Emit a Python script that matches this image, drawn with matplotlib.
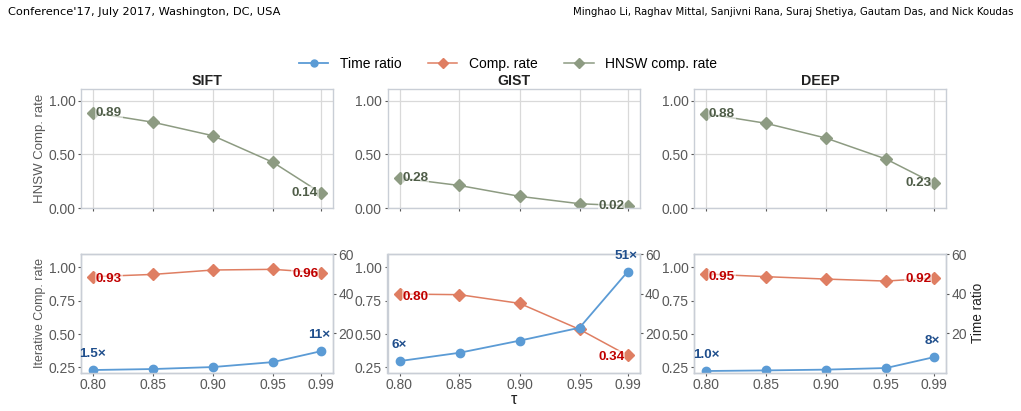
import matplotlib
matplotlib.use("Agg")
import matplotlib.pyplot as plt
from matplotlib.lines import Line2D

plt.rcParams['font.family'] = ['Liberation Sans', 'DejaVu Sans']

# data
tau = [0.80, 0.85, 0.90, 0.95, 0.99]
datasets = ['SIFT', 'GIST', 'DEEP']
hnsw_rate = {
    'SIFT': [0.89, 0.80, 0.674, 0.426, 0.14],
    'GIST': [0.28, 0.21, 0.109, 0.04, 0.02],
    'DEEP': [0.88, 0.79, 0.652, 0.457, 0.23],
}
comp_rate = {
    'SIFT': [0.93, 0.947, 0.98, 0.985, 0.96],
    'GIST': [0.80, 0.795, 0.73, 0.535, 0.34],
    'DEEP': [0.95, 0.93, 0.912, 0.897, 0.92],
}
time_ratio = {
    'SIFT': [1.5, 2.0, 3.0, 5.5, 11],
    'GIST': [6, 10.2, 16.3, 22.8, 51],
    'DEEP': [1.0, 1.3, 1.7, 2.5, 8],
}
time_fmt = {'SIFT': ['1.5×', '11×'], 'GIST': ['6×', '51×'], 'DEEP': ['1.0×', '8×']}

c_blue = '#5b9bd5'
c_orange = '#df7e62'
c_green = '#8d9b82'
c_tblue = '#1f4e8c'
c_tred = '#c00000'
c_tgreen = '#4f5d48'
c_tick = '#595959'
c_spine = '#c9ced6'
c_grid = '#d9d9d9'

W, H = 1021, 411
fig = plt.figure(figsize=(W / 100, H / 100), dpi=100)

col_left = [81, 387.5, 694]
col_w = 252

def style(ax, grid):
    for s in ax.spines.values():
        s.set_color(c_spine)
        s.set_linewidth(1.0)
    ax.tick_params(colors=c_tick, labelsize=10, length=2.5, width=0.8, labelcolor=c_tick, pad=1.5)
    if grid:
        ax.grid(True, color=c_grid, linewidth=0.9)
        ax.set_axisbelow(True)

bbox = dict(boxstyle='square,pad=0.05', facecolor='white', edgecolor='none', alpha=0.55)
lab_fs = 9.7

for i, name in enumerate(datasets):
    x0 = col_left[i] / W
    w = col_w / W
    # top panel
    ax = fig.add_axes([x0, 1 - 208 / H, w, 119 / H])
    ax.plot(tau, hnsw_rate[name], color=c_green, marker='D', markersize=6, linewidth=1.1)
    ax.set_xlim(0.79, 1.0)
    ax.set_ylim(0, 1.11)
    ax.set_xticks(tau)
    ax.set_xticklabels([])
    ax.set_yticks([0, 0.5, 1.0])
    ax.set_yticklabels(['0.00', '0.50', '1.00'])
    style(ax, True)
    ax.set_title(name, fontsize=10.2, fontweight='bold', color='#222222', pad=3)
    v = hnsw_rate[name]
    ax.annotate(f'{v[0]:.2f}', (tau[0], v[0]), xytext=(2, 0), textcoords='offset points',
                ha='left', va='center', fontsize=lab_fs, fontweight='bold', color=c_tgreen, bbox=bbox)
    ax.annotate(f'{v[-1]:.2f}', (tau[-1], v[-1]), xytext=(-2, 0), textcoords='offset points',
                ha='right', va='center', fontsize=lab_fs, fontweight='bold', color=c_tgreen, bbox=bbox)
    if i == 0:
        ax.set_ylabel('HNSW Comp. rate', fontsize=9.5, color=c_tick, labelpad=2)

    # bottom panel
    axb = fig.add_axes([x0, 1 - 372.7 / H, w, 118.7 / H])
    axr = axb.twinx()
    axb.plot(tau, comp_rate[name], color=c_orange, marker='D', markersize=6, linewidth=1.1, zorder=3)
    axr.plot(tau, time_ratio[name], color=c_blue, marker='o', markersize=6, linewidth=1.3)
    axb.set_xlim(0.79, 1.0)
    axb.set_ylim(0.21, 1.10)
    axr.set_ylim(0.15, 59.5)
    axb.set_xticks(tau)
    axb.set_xticklabels(['0.80', '0.85', '0.90', '0.95', '0.99'])
    axb.set_yticks([0.25, 0.5, 0.75, 1.0])
    axb.set_yticklabels(['0.25', '0.50', '0.75', '1.00'])
    axr.set_yticks([20, 40, 60])
    style(axb, False)
    style(axr, False)
    c = comp_rate[name]
    axb.annotate(f'{c[0]:.2f}', (tau[0], c[0]), xytext=(2, -2), textcoords='offset points',
                 ha='left', va='center', fontsize=lab_fs, fontweight='bold', color=c_tred, bbox=bbox, zorder=5)
    axb.annotate(f'{c[-1]:.2f}', (tau[-1], c[-1]), xytext=(-2, -1), textcoords='offset points',
                 ha='right', va='center', fontsize=lab_fs, fontweight='bold', color=c_tred, bbox=bbox, zorder=5)
    t = time_ratio[name]
    axr.annotate(time_fmt[name][0], (tau[0], t[0]), xytext=(0, 7), textcoords='offset points',
                 ha='center', va='bottom', fontsize=lab_fs, fontweight='bold', color=c_tblue)
    axr.annotate(time_fmt[name][1], (tau[-1], t[-1]), xytext=(-1, 7), textcoords='offset points',
                 ha='center', va='bottom', fontsize=lab_fs, fontweight='bold', color=c_tblue)
    if i == 0:
        axb.set_ylabel('Iterative Comp. rate', fontsize=9, color=c_tick, labelpad=2)
    if i == 1:
        axb.set_xlabel('τ', fontsize=11.5, color='#222222', labelpad=0)
    if i == 2:
        axr.set_ylabel('Time ratio', fontsize=9.8, color='#222222', labelpad=3)

handles = [
    Line2D([], [], color=c_blue, marker='o', markersize=5, linewidth=1.3),
    Line2D([], [], color=c_orange, marker='D', markersize=5, linewidth=1.1),
    Line2D([], [], color=c_green, marker='D', markersize=5, linewidth=1.1),
]
fig.legend(handles, ['Time ratio', 'Comp. rate', 'HNSW comp. rate'], loc='center',
           bbox_to_anchor=(508 / W, 1 - 64 / H), ncol=3, frameon=False, fontsize=10,
           handlelength=2.1, columnspacing=1.95, handletextpad=0.8)

hdr_font = ['Liberation Sans Narrow', 'DejaVu Sans']
fig.text(8 / W, 1 - 12 / H, "Conference'17, July 2017, Washington, DC, USA", ha='left', va='center',
         fontsize=8.2, family=hdr_font)
fig.text(1013 / W, 1 - 12 / H, 'Minghao Li, Raghav Mittal, Sanjivni Rana, Suraj Shetiya, Gautam Das, and Nick Koudas',
         ha='right', va='center', fontsize=7.3, family=hdr_font)

fig.savefig('out.png', dpi=100)
